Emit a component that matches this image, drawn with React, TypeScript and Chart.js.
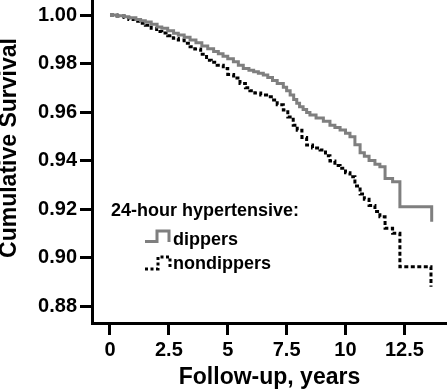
import React, { useEffect, useRef } from "react";
import { Chart, registerables } from "chart.js";

Chart.register(...registerables);

// ---- data ----
const dipperTimes = [0, 0.3, 0.6, 0.8, 1.1, 1.3, 1.5, 1.75, 2.0, 2.2, 2.45, 2.7, 2.9, 3.15, 3.4, 3.65, 3.9, 4.15, 4.4, 4.6, 4.8, 5.0, 5.24, 5.45, 5.66, 5.9, 6.1, 6.3, 6.51, 6.7, 6.9, 7.1, 7.36, 7.5, 7.65, 7.8, 7.93, 8.05, 8.2, 8.35, 8.49, 8.75, 9.06, 9.34, 9.55, 9.77, 10.0, 10.19, 10.4, 10.62, 10.8, 11.0, 11.25, 11.46, 11.68, 12.0, 12.31, 13.66];
const dipperSurvival = [1.0, 0.9997, 0.9993, 0.9989, 0.9982, 0.9976, 0.9971, 0.9962, 0.9951, 0.9945, 0.9935, 0.9925, 0.9918, 0.9908, 0.9897, 0.9886, 0.9872, 0.9861, 0.985, 0.984, 0.983, 0.982, 0.9807, 0.9793, 0.978, 0.9772, 0.9766, 0.976, 0.9753, 0.9742, 0.973, 0.9718, 0.9702, 0.9688, 0.967, 0.9652, 0.9636, 0.9622, 0.961, 0.9598, 0.9588, 0.9575, 0.9562, 0.9546, 0.9536, 0.9526, 0.9512, 0.9498, 0.9465, 0.9432, 0.9418, 0.94, 0.9385, 0.9374, 0.9326, 0.9313, 0.9209, 0.9148];

const nondipperTimes = [0, 0.3, 0.6, 0.8, 1.1, 1.3, 1.5, 1.75, 1.98, 2.2, 2.45, 2.69, 2.9, 3.15, 3.4, 3.6, 3.85, 4.1, 4.3, 4.55, 4.81, 5.0, 5.25, 5.52, 5.75, 5.94, 6.15, 6.4, 6.65, 6.85, 7.1, 7.36, 7.55, 7.78, 7.95, 8.15, 8.35, 8.6, 8.92, 9.15, 9.34, 9.55, 9.77, 10.0, 10.19, 10.4, 10.62, 10.8, 11.0, 11.25, 11.46, 11.68, 12.0, 12.31, 13.63];
const nondipperSurvival = [1.0, 0.9996, 0.999, 0.9982, 0.9974, 0.9966, 0.9958, 0.9945, 0.9932, 0.9926, 0.9915, 0.9904, 0.9897, 0.9884, 0.9869, 0.986, 0.9838, 0.9814, 0.9805, 0.9793, 0.978, 0.9755, 0.974, 0.9718, 0.97, 0.9688, 0.9678, 0.967, 0.9663, 0.965, 0.963, 0.9608, 0.958, 0.9546, 0.9525, 0.9495, 0.9464, 0.9452, 0.9443, 0.942, 0.9398, 0.938, 0.9368, 0.935, 0.9333, 0.9295, 0.9262, 0.924, 0.9215, 0.919, 0.9168, 0.9121, 0.91, 0.8962, 0.888];

const xTicks = [0, 2.5, 5, 7.5, 10, 12.5];
const yTicks = [0.88, 0.9, 0.92, 0.94, 0.96, 0.98, 1.0];
const seriesLabels = ["dippers", "nondippers"];
const legendTitle = "24-hour hypertensive:";
const xTitle = "Follow-up, years";
const yTitle = "Cumulative Survival";

const FONT = "'Liberation Sans', Arial, Helvetica, sans-serif";
const GRAY = "#7f7f7f";
const BLACK = "#000000";

const overlayPlugin = {
  id: "overlay",
  afterDraw(chart: any) {
    const ctx = chart.ctx as CanvasRenderingContext2D;
    ctx.save();
    // y-axis title
    ctx.fillStyle = BLACK;
    ctx.font = `bold 23px ${FONT}`;
    ctx.textAlign = "center";
    ctx.textBaseline = "middle";
    ctx.translate(10, 148);
    ctx.rotate(-Math.PI / 2);
    ctx.fillText(yTitle, 0, 0);
    ctx.restore();

    ctx.save();
    ctx.fillStyle = BLACK;
    ctx.textAlign = "left";
    ctx.textBaseline = "middle";
    ctx.font = `bold 18px ${FONT}`;
    ctx.fillText(legendTitle, 111, 211);
    ctx.fillText(seriesLabels[0], 173, 240);
    ctx.fillText(seriesLabels[1], 173, 264);

    // dippers icon
    ctx.lineWidth = 3;
    ctx.strokeStyle = GRAY;
    ctx.setLineDash([]);
    ctx.beginPath();
    ctx.moveTo(145, 241.5);
    ctx.lineTo(157, 241.5);
    ctx.lineTo(157, 231);
    ctx.lineTo(169, 231);
    ctx.lineTo(169, 242);
    ctx.stroke();

    // nondippers icon
    ctx.strokeStyle = BLACK;
    ctx.setLineDash([3, 2.5]);
    ctx.beginPath();
    ctx.moveTo(145, 269);
    ctx.lineTo(158, 269);
    ctx.lineTo(158, 257);
    ctx.lineTo(170, 257);
    ctx.lineTo(170, 269);
    ctx.stroke();
    ctx.restore();
  },
};

export default function App() {
  const ref = useRef<HTMLCanvasElement | null>(null);

  useEffect(() => {
    if (!ref.current) return;
    const chart = new Chart(ref.current, {
      type: "line",
      data: {
        datasets: [
          {
            label: seriesLabels[0],
            data: dipperTimes.map((t, i) => ({ x: t, y: dipperSurvival[i] })),
            borderColor: GRAY,
            borderWidth: 3,
            stepped: "before",
            pointRadius: 0,
            fill: false,
          },
          {
            label: seriesLabels[1],
            data: nondipperTimes.map((t, i) => ({ x: t, y: nondipperSurvival[i] })),
            borderColor: BLACK,
            borderWidth: 3,
            borderDash: [4, 2.5],
            stepped: "before",
            pointRadius: 0,
            fill: false,
          },
        ],
      },
      options: {
        responsive: false,
        animation: false,
        layout: { padding: 0 },
        plugins: {
          legend: { display: false },
          tooltip: { enabled: false },
          title: { display: false },
        },
        scales: {
          x: {
            type: "linear",
            min: -0.764,
            max: 14.31,
            afterBuildTicks: (scale: any) => {
              scale.ticks = xTicks.map((v) => ({ value: v }));
            },
            afterFit: (scale: any) => {
              scale.height = 66;
              scale.paddingLeft = 0;
              scale.paddingRight = 0;
            },
            grid: {
              display: true,
              drawOnChartArea: false,
              drawTicks: true,
              tickLength: 12,
              tickWidth: 3,
              tickColor: BLACK,
            },
            border: { display: true, color: BLACK, width: 3 },
            ticks: {
              color: BLACK,
              padding: 3,
              maxRotation: 0,
              font: { family: FONT, size: 20, weight: "bold" },
              callback: (v: any) => String(v),
            },
            title: {
              display: true,
              text: xTitle,
              color: BLACK,
              padding: 0,
              font: { family: FONT, size: 23, weight: "bold", lineHeight: 1.0 },
            },
          },
          y: {
            type: "linear",
            min: 0.873,
            max: 1.0062,
            afterBuildTicks: (scale: any) => {
              scale.ticks = yTicks.map((v) => ({ value: v }));
            },
            afterFit: (scale: any) => {
              scale.width = 92;
              scale.paddingTop = 0;
              scale.paddingBottom = 0;
            },
            grid: {
              display: true,
              drawOnChartArea: false,
              drawTicks: true,
              tickLength: 12,
              tickWidth: 3,
              tickColor: BLACK,
            },
            border: { display: true, color: BLACK, width: 3 },
            ticks: {
              color: BLACK,
              padding: 3,
              font: { family: FONT, size: 20, weight: "bold" },
              callback: (v: any) => Number(v).toFixed(2),
            },
            title: { display: false },
          },
        },
      },
      plugins: [overlayPlugin],
    } as any);
    return () => chart.destroy();
  }, []);

  return (
    <div style={{ position: "absolute", left: 0, top: 0, width: 447, height: 389, background: "#fff" }}>
      <canvas ref={ref} width={447} height={389} style={{ display: "block" }} />
    </div>
  );
}
